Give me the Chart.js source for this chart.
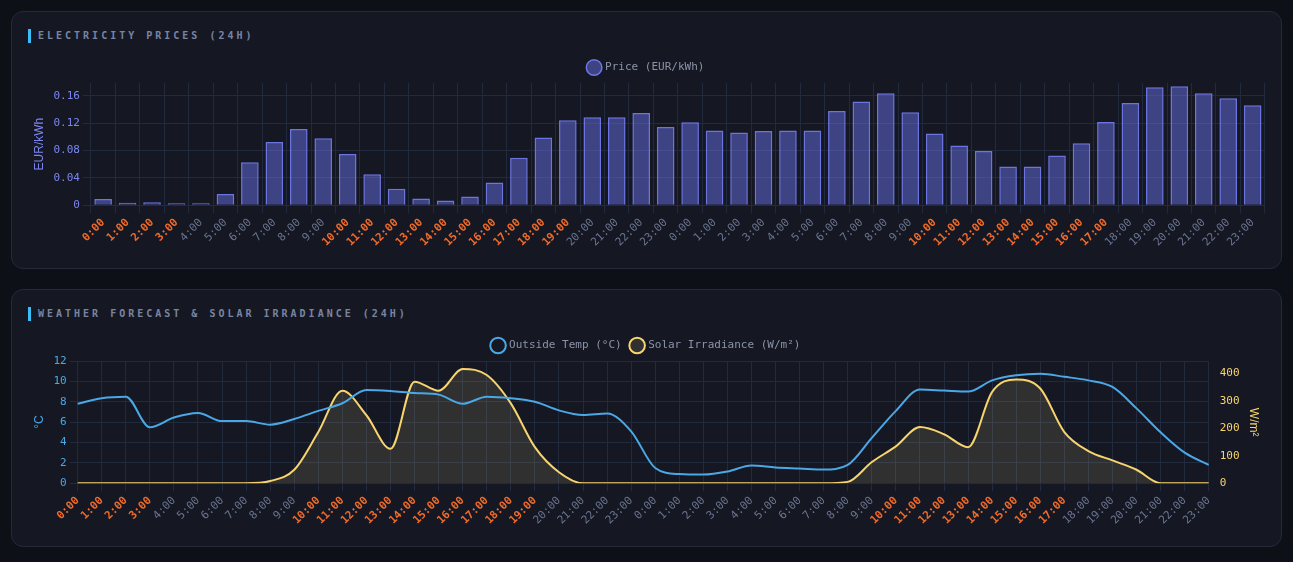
<!DOCTYPE html>
<html>
<head>
<meta charset="utf-8">
<script src="https://cdn.jsdelivr.net/npm/chart.js@4.4.1/dist/chart.umd.min.js"></script>
<style>
html,body{margin:0;padding:0;background:#0d1017;}
body{padding:11px;width:1293px;height:562px;box-sizing:border-box;overflow:hidden;}
.panel{box-sizing:border-box;height:258px;background:#151823;border:1px solid #242a3a;border-radius:12px;padding:17px 16px 16px 16px;margin-bottom:20px;}
.title{font:bold 10px 'DejaVu Sans Mono',monospace;letter-spacing:3px;color:#7a84a2;line-height:14px;height:14px;border-left:3px solid #38bdf8;padding-left:7px;white-space:nowrap;}
.wrap{position:relative;height:200px;margin-top:9px;}
</style>
</head>
<body>
<div class="panel">
  <div class="title">ELECTRICITY PRICES (24H)</div>
  <div class="wrap"><canvas id="priceChart"></canvas></div>
</div>
<div class="panel">
  <div class="title">WEATHER FORECAST &amp; SOLAR IRRADIANCE (24H)</div>
  <div class="wrap"><canvas id="weatherChart"></canvas></div>
</div>
<script>
// ---- data ----
const hourLabels = [
  '0:00','1:00','2:00','3:00','4:00','5:00','6:00','7:00','8:00','9:00','10:00','11:00',
  '12:00','13:00','14:00','15:00','16:00','17:00','18:00','19:00','20:00','21:00','22:00','23:00',
  '0:00','1:00','2:00','3:00','4:00','5:00','6:00','7:00','8:00','9:00','10:00','11:00',
  '12:00','13:00','14:00','15:00','16:00','17:00','18:00','19:00','20:00','21:00','22:00','23:00'
];

const priceEurKwh = [
  0.009, 0.0035, 0.0045, 0.003, 0.003, 0.0165, 0.063, 0.0925, 0.1115, 0.098, 0.075, 0.0455,
  0.024, 0.0098, 0.007, 0.0127, 0.0333, 0.0695, 0.0993, 0.1243, 0.1287, 0.1287, 0.135, 0.1145,
  0.1214, 0.1096, 0.1067, 0.1086, 0.1096, 0.1096, 0.138, 0.152, 0.164, 0.136, 0.105, 0.0876,
  0.0793, 0.0568, 0.0568, 0.073, 0.0906, 0.1218, 0.1497, 0.1728, 0.1742, 0.164, 0.1566, 0.1463
];

const outsideTempC = [
  7.8, 8.35, 8.5, 5.5, 6.45, 6.9, 6.1, 6.1, 5.75, 6.3, 7.1, 7.85,
  9.15, 9.05, 8.85, 8.7, 7.8, 8.5, 8.35, 8.0, 7.15, 6.7, 6.85, 5.1,
  1.5, 0.9, 0.85, 1.15, 1.75, 1.55, 1.45, 1.35, 1.8, 4.45, 7.1, 9.2,
  9.1, 9.0, 10.1, 10.6, 10.75, 10.45, 10.1, 9.45, 7.35, 5.0, 3.0, 1.8
];

const solarIrradiance = [
  0, 0, 0, 0, 0, 0, 0, 0, 8, 49, 186, 336,
  247, 125, 369, 336, 415, 393, 290, 131, 40, 0, 0, 0,
  0, 0, 0, 0, 0, 0, 0, 0, 5, 77, 134, 204,
  178, 131, 332, 377, 344, 186, 117, 83, 49, 0, 0, 0
];

// slots whose hour label is highlighted in orange
const highlightedSlots = [0,1,2,3,10,11,12,13,14,15,16,17,18,19,34,35,36,37,38,39,40,41];

// ---- styling ----
const MONO = "'DejaVu Sans Mono', monospace";
const GRID = '#222a3d';
const ORANGE = '#f06a2a';
const GREY = '#6b7590';
const INDIGO = '#7c86f0';
const BLUE = '#4aa8e6';
const YELLOW = '#f7d46e';
const LEGEND_TXT = '#8c93a8';

// keep only ticks that fall on the step (drops the non-round scale maximum)
const keepStepTicks = (step) => (scale) => {
  scale.ticks = scale.ticks.filter(t => Math.abs(t.value / step - Math.round(t.value / step)) < 1e-6);
};

const xTicks = {
  autoSkip: false,
  maxRotation: 45,
  minRotation: 45,
  padding: 3,
  color: (c) => highlightedSlots.includes(c.index) ? ORANGE : GREY,
  font: (c) => ({family: MONO, size: 11, weight: highlightedSlots.includes(c.index) ? 'bold' : 'normal'})
};

const legendOpts = {
  position: 'top',
  labels: {usePointStyle: true, pointStyle: 'circle', color: LEGEND_TXT, font: {family: MONO, size: 11}, padding: 10}
};

new Chart(document.getElementById('priceChart'), {
  type: 'bar',
  data: {
    labels: hourLabels,
    datasets: [{
      label: 'Price (EUR/kWh)',
      data: priceEurKwh,
      backgroundColor: 'rgba(104,110,228,0.5)',
      borderColor: 'rgba(118,126,245,0.9)',
      borderWidth: 1.5
    }]
  },
  options: {
    responsive: true,
    maintainAspectRatio: false,
    animation: false,
    plugins: {legend: legendOpts, tooltip: {enabled: false}},
    scales: {
      x: {
        grid: {color: GRID, tickLength: 8},
        border: {color: GRID},
        ticks: xTicks
      },
      y: {
        min: 0,
        max: 0.179,
        bounds: 'data',
        afterBuildTicks: keepStepTicks(0.04),
        grid: {color: GRID, tickLength: 8},
        border: {color: GRID},
        ticks: {stepSize: 0.04, includeBounds: false, color: INDIGO, font: {family: MONO, size: 11}, padding: 3},
        title: {display: true, text: 'EUR/kWh', color: INDIGO, font: {size: 12}}
      }
    }
  }
});

new Chart(document.getElementById('weatherChart'), {
  type: 'line',
  data: {
    labels: hourLabels,
    datasets: [{
      label: 'Outside Temp (°C)',
      data: outsideTempC,
      borderColor: BLUE,
      backgroundColor: 'transparent',
      borderWidth: 2,
      pointRadius: 0,
      cubicInterpolationMode: 'monotone',
      fill: false,
      yAxisID: 'y'
    }, {
      label: 'Solar Irradiance (W/m²)',
      data: solarIrradiance,
      borderColor: YELLOW,
      backgroundColor: 'rgba(250,225,150,0.12)',
      borderWidth: 2,
      pointRadius: 0,
      cubicInterpolationMode: 'monotone',
      fill: 'origin',
      yAxisID: 'y1'
    }]
  },
  options: {
    responsive: true,
    maintainAspectRatio: false,
    animation: false,
    plugins: {legend: legendOpts, tooltip: {enabled: false}},
    scales: {
      x: {
        grid: {color: GRID, tickLength: 8},
        border: {color: GRID},
        ticks: xTicks
      },
      y: {
        position: 'left',
        min: 0,
        max: 12,
        grid: {color: GRID, tickLength: 8},
        border: {color: GRID},
        ticks: {stepSize: 2, color: BLUE, font: {family: MONO, size: 11}, padding: 3},
        title: {display: true, text: '°C', color: BLUE, font: {size: 12}}
      },
      y1: {
        position: 'right',
        min: 0,
        max: 444,
        bounds: 'data',
        afterBuildTicks: keepStepTicks(100),
        grid: {drawOnChartArea: false, color: 'rgba(0,0,0,0)', tickLength: 8},
        border: {display: false},
        ticks: {stepSize: 100, includeBounds: false, color: YELLOW, font: {family: MONO, size: 11}, padding: 3},
        title: {display: true, text: 'W/m²', color: YELLOW, font: {size: 12}}
      }
    }
  }
});
</script>
</body>
</html>
